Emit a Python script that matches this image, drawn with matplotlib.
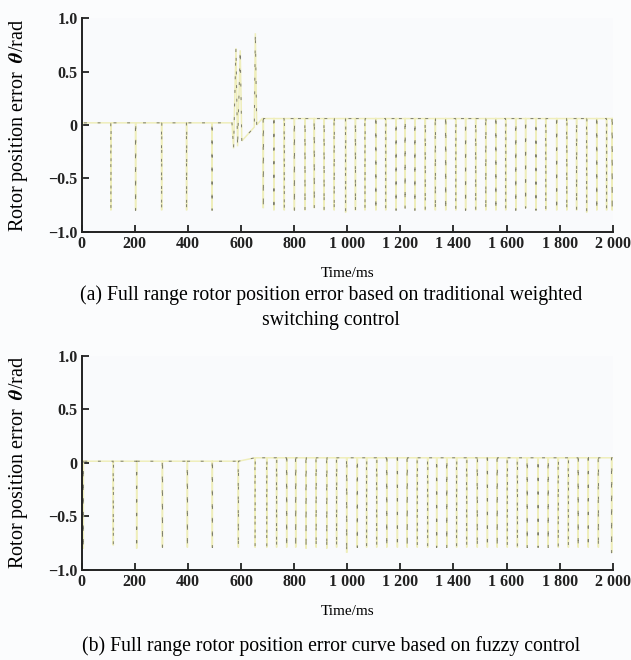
import numpy as np
import matplotlib
matplotlib.use("Agg")
import matplotlib.pyplot as plt

plt.rcParams['font.family'] = ['Liberation Serif', 'DejaVu Serif']
plt.rcParams['mathtext.fontset'] = 'stix'

# ---- data -------------------------------------------------------------
# (a) traditional weighted switching control
a_base_early = 0.02
a_base_late = 0.06
a_spikes_early = [2, 110, 203, 301, 395, 491]
a_depth_early = [-0.80, -0.80, -0.80, -0.80, -0.80, -0.80]
a_transient_t = [566, 572, 581, 587, 597, 603, 650, 654, 659, 680]
a_transient_y = [0.02, -0.22, 0.72, -0.20, 0.70, -0.15, -0.02, 0.86, 0.00, 0.06]
a_spikes_late = [684, 724, 763, 801, 841, 876, 913, 951, 994, 1031, 1067, 1108,
                 1145, 1184, 1218, 1255, 1294, 1332, 1371, 1409, 1446, 1484,
                 1522, 1560, 1597, 1635, 1672, 1711, 1748, 1789, 1827, 1864,
                 1902, 1940, 1977, 1998]
a_depth_late = [-0.78, -0.80, -0.80, -0.80, -0.80, -0.78, -0.80, -0.80, -0.82,
                -0.80, -0.80, -0.80, -0.80, -0.80, -0.78, -0.80, -0.80, -0.80,
                -0.80, -0.80, -0.80, -0.80, -0.80, -0.80, -0.80, -0.80, -0.78,
                -0.80, -0.80, -0.80, -0.80, -0.80, -0.82, -0.80, -0.80, -0.80]

# (b) fuzzy control
b_base_early = 0.015
b_base_late = 0.047
b_switch_t = 650
b_spikes = [6, 119, 207, 304, 398, 492, 590, 653, 697, 734, 772, 806, 845, 883,
            923, 960, 998, 1038, 1073, 1111, 1149, 1189, 1226, 1264, 1303, 1337,
            1375, 1412, 1450, 1490, 1528, 1565, 1603, 1641, 1678, 1719, 1757,
            1795, 1833, 1870, 1908, 1946, 1996]
b_depth = [-0.80, -0.77, -0.80, -0.79, -0.79, -0.79, -0.79, -0.79, -0.79, -0.79,
           -0.79, -0.79, -0.80, -0.79, -0.80, -0.79, -0.84, -0.79, -0.79, -0.79,
           -0.79, -0.79, -0.79, -0.79, -0.79, -0.79, -0.79, -0.79, -0.79, -0.79,
           -0.79, -0.79, -0.79, -0.79, -0.79, -0.79, -0.79, -0.79, -0.79, -0.79,
           -0.79, -0.79, -0.84]

x_ticks = [0, 200, 400, 600, 800, 1000, 1200, 1400, 1600, 1800, 2000]
x_ticklabels = ['0', '200', '400', '600', '800', '1 000', '1 200', '1 400',
                '1 600', '1 800', '2 000']
y_ticks = [-1.0, -0.5, 0.0, 0.5, 1.0]
y_ticklabels = ['\u22121.0', '\u22120.5', '0', '0.5', '1.0']


def spike_train(times, depths, base_fn, w=1.2):
    xs, ys = [], []
    for t, d in zip(times, depths):
        b = base_fn(t)
        xs += [t - w / 2, t, t + w / 2]
        ys += [b, d, b]
    return xs, ys


def build_a():
    xs, ys = spike_train(a_spikes_early, a_depth_early, lambda t: a_base_early)
    xs = [0] + xs + list(a_transient_t)
    ys = [a_base_early] + ys + list(a_transient_y)
    sx, sy = spike_train(a_spikes_late, a_depth_late, lambda t: a_base_late)
    xs += sx + [2000]
    ys += sy + [a_base_late]
    return np.array(xs), np.array(ys)


def build_b():
    base = lambda t: b_base_early if t < b_switch_t else b_base_late
    xs, ys = spike_train(b_spikes, b_depth, base)
    xs = [0] + xs + [2000]
    ys = [b_base_early] + ys + [b_base_late]
    return np.array(xs), np.array(ys)


def style_axes(ax):
    ax.set_facecolor('#f9fafc')
    ax.set_xlim(0, 2000)
    ax.set_ylim(-1.0, 1.0)
    for s in ('top', 'right'):
        ax.spines[s].set_visible(False)
    for s in ('left', 'bottom'):
        ax.spines[s].set_linewidth(1.4)
        ax.spines[s].set_color('#222222')
    ax.set_xticks(x_ticks)
    ax.set_xticklabels(x_ticklabels)
    ax.set_yticks(y_ticks)
    ax.set_yticklabels(y_ticklabels)
    ax.tick_params(direction='in', length=5, width=1.3, colors='#222222',
                   labelsize=11.5, pad=3)
    for lab in ax.get_xticklabels() + ax.get_yticklabels():
        lab.set_fontweight('bold')
    ax.set_ylabel('Rotor position error  $\\boldsymbol{\\theta}$/rad',
                  fontsize=14.5)
    ax.yaxis.set_label_coords(-0.098, 0.5)
    ax.set_xlabel('Time/ms', fontsize=11, labelpad=11)


def draw_signal(ax, x, y):
    ax.plot(x, y, color='#efeebb', lw=1.1, solid_joinstyle='miter')
    ax.plot(x, y, color='#7d7d6c', lw=0.7, dashes=(3, 11))


fig = plt.figure(figsize=(6.31, 6.60), dpi=100, facecolor='#fbfcfd')

ax1 = fig.add_axes([0.1295, 0.649, 0.8415, 0.3233])
style_axes(ax1)
draw_signal(ax1, *build_a())

ax2 = fig.add_axes([0.1295, 0.1364, 0.8415, 0.3247])
style_axes(ax2)
draw_signal(ax2, *build_b())

fig.text(0.525, 1 - 295 / 660,
         '(a) Full range rotor position error based on traditional weighted',
         ha='center', va='center', fontsize=14.2)
fig.text(0.525, 1 - 321 / 660, 'switching control',
         ha='center', va='center', fontsize=14.2)
fig.text(0.525, 1 - 646 / 660,
         '(b) Full range rotor position error curve based on fuzzy control',
         ha='center', va='center', fontsize=14.2)

fig.savefig('out.png', dpi=100, facecolor=fig.get_facecolor())
